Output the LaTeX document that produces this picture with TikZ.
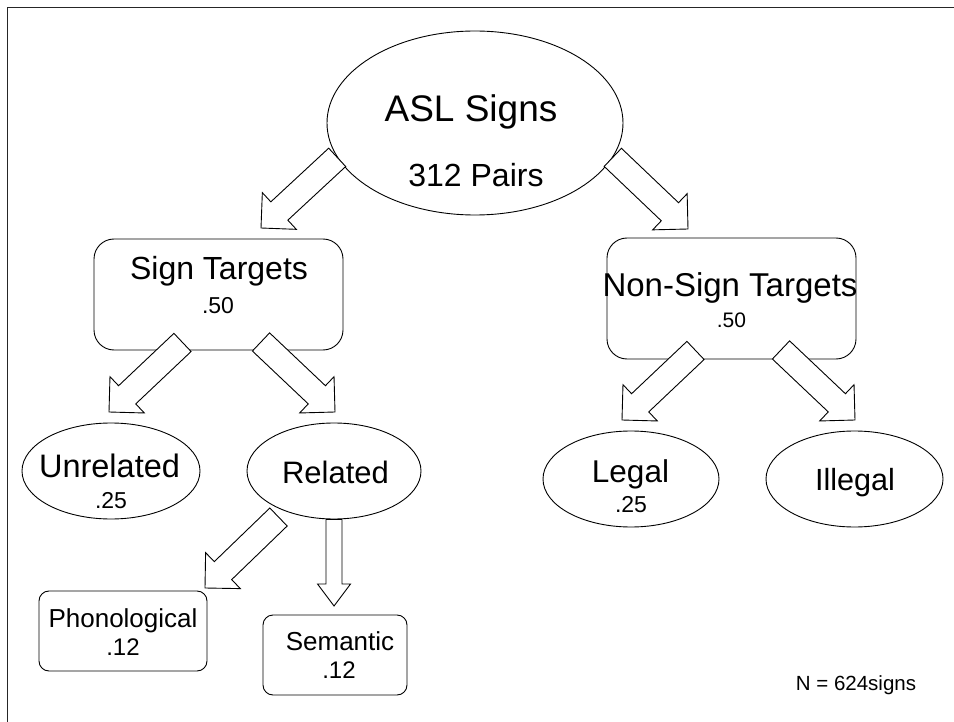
\documentclass[tikz,border=0pt]{standalone}
\usepackage{fontspec}
\setmainfont{Liberation Sans}
\usetikzlibrary{calc,shapes.geometric}

% hollow block arrow: from, to, half shaft width, half head width, head length
\newcommand{\fatarrow}[5]{%
  \coordinate (fa-base) at ($(#2)!#5!(#1)$);
  \draw[fatline] ($(#1)!#3!90:(#2)$) -- ($(fa-base)!#3!90:(#2)$)
    -- ($(fa-base)!#4!90:(#2)$) -- (#2) -- ($(fa-base)!#4!-90:(#2)$)
    -- ($(fa-base)!#3!-90:(#2)$) -- ($(#1)!#3!-90:(#2)$) -- cycle;
}

\begin{document}
\begin{tikzpicture}[x=1pt,y=-1pt]
\tikzset{
  oval/.style={ellipse,draw,line width=0.9pt,inner sep=0pt},
  card/.style={rectangle,draw,line width=0.9pt,inner sep=0pt,rounded corners=#1},
  txt/.style={anchor=base,inner sep=0pt,font=\fontsize{#1}{#1}\selectfont},
  fatline/.style={draw,fill=white,line width=0.9pt,line join=miter}
}
\useasboundingbox (0,0) rectangle (954,722);
\draw[line width=1pt,black!85] (954,8) -- (7.5,8) -- (7.5,722);

% shapes
\node[oval,minimum width=296,minimum height=184] (asl) at (475,123) {};
\node[card=20pt,minimum width=249,minimum height=111] (sign) at (218.5,294.5) {};
\node[card=20pt,minimum width=249,minimum height=121] (nonsign) at (731.5,298.5) {};
\node[oval,minimum width=178,minimum height=96] (unrel) at (111,471) {};
\node[oval,minimum width=174,minimum height=96] (rel) at (334,471) {};
\node[oval,minimum width=176,minimum height=96] (legal) at (631,479) {};
\node[oval,minimum width=177,minimum height=96] (illegal) at (854.5,479) {};
\node[card=10pt,minimum width=168,minimum height=80] (phon) at (123,631) {};
\node[card=10pt,minimum width=144,minimum height=80] (sem) at (335,655) {};

% labels
\node[txt=37] (asl-name) at (471,122) {ASL Signs};
\node[txt=32] (asl-n) at (476,187) {312 Pairs};
\node[txt=32] (sign-name) at (219,280) {Sign Targets};
\node[txt=23] (sign-p) at (218,313) {.50};
\node[txt=33] (nonsign-name) at (730,297) {Non-Sign Targets};
\node[txt=21] (nonsign-p) at (731.5,327) {.50};
\node[txt=32.5] (unrel-name) at (109.5,477) {Unrelated};
\node[txt=23] (unrel-p) at (111,508) {.25};
\node[txt=31] (rel-name) at (335.5,483) {Related};
\node[txt=31.5] (legal-name) at (630.5,482) {Legal};
\node[txt=23] (legal-p) at (631,512) {.25};
\node[txt=30.6] (illegal-name) at (855,490) {Illegal};
\node[txt=26] (phon-name) at (123,627) {Phonological};
\node[txt=24] (phon-p) at (123,655) {.12};
\node[txt=26] (sem-name) at (340,650) {Semantic};
\node[txt=24] (sem-p) at (339,678) {.12};
\node[txt=20.5] (total) at (856,690) {N = 624signs};

% arrow ends
\coordinate (sign-in) at (261,228);
\coordinate (nonsign-in) at (688,229);
\coordinate (unrel-in) at (109,412);
\coordinate (rel-in) at (335,412);
\coordinate (legal-in) at (622,420);
\coordinate (illegal-in) at (855,420);
\coordinate (phon-in) at (205,588);
\coordinate (sem-in) at (334,606);

\fatarrow{asl.194}{sign-in}{12.5pt}{25pt}{25pt}
\fatarrow{asl.346}{nonsign-in}{12.5pt}{25pt}{25pt}
\fatarrow{$(sign.south)+(-36,-8)$}{unrel-in}{12.5pt}{25pt}{25pt}
\fatarrow{$(sign.south)+(42.5,-8.5)$}{rel-in}{12.5pt}{25pt}{25pt}
\fatarrow{$(nonsign.south)+(-36,-9)$}{legal-in}{12.5pt}{25pt}{25pt}
\fatarrow{$(nonsign.south)+(49.5,-9.5)$}{illegal-in}{12.5pt}{25pt}{25pt}
\fatarrow{$(rel)+(-55.5,46)$}{phon-in}{12.5pt}{25pt}{25pt}
\fatarrow{rel.south}{sem-in}{8pt}{16.5pt}{22pt}
\end{tikzpicture}
\end{document}
